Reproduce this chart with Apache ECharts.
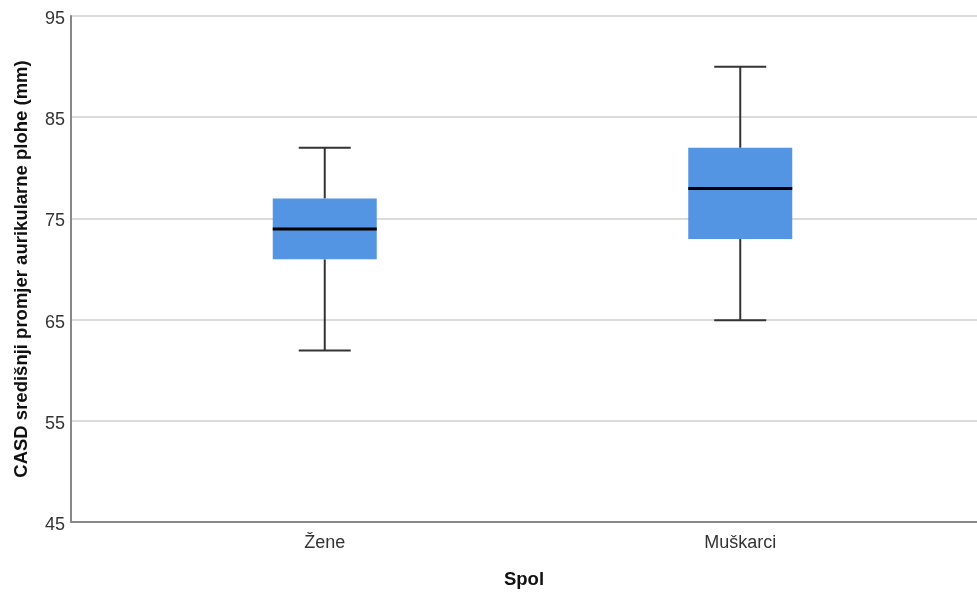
<!DOCTYPE html>
<html>
<head>
<meta charset="utf-8">
<style>
  html, body { margin: 0; padding: 0; background: #fff; }
  #main { width: 977px; height: 594px; }
</style>
<script src="https://cdn.jsdelivr.net/npm/echarts@6/dist/echarts.min.js"></script>
</head>
<body>
<div id="main"></div>
<script>
// kategorije i vrijednosti box plota (min, Q1, medijan, Q3, max)
const categories = ['Žene', 'Muškarci'];
const whiskerLow = [62, 65];
const q1 = [71, 73];
const median = [74, 78];
const q3 = [77, 82];
const whiskerHigh = [82, 90];
const yTicks = [45, 55, 65, 75, 85, 95];

const boxData = categories.map((c, i) => [i, whiskerLow[i], q1[i], median[i], q3[i], whiskerHigh[i]]);

let chart = echarts.init(document.getElementById('main'), null, { renderer: 'canvas' });

function renderBox(params, api) {
  const x = api.value(0);
  const pMin = api.coord([x, api.value(1)]);
  const pQ1 = api.coord([x, api.value(2)]);
  const pMed = api.coord([x, api.value(3)]);
  const pQ3 = api.coord([x, api.value(4)]);
  const pMax = api.coord([x, api.value(5)]);
  const half = 52;   // pola sirine kutije
  const cap = 26;    // pola sirine brkova
  const cx = pMed[0];
  const whisker = { stroke: '#333', lineWidth: 2 };
  return {
    type: 'group',
    children: [
      { type: 'line', shape: { x1: cx, y1: pQ3[1], x2: cx, y2: pMax[1] }, style: whisker },
      { type: 'line', shape: { x1: cx, y1: pQ1[1], x2: cx, y2: pMin[1] }, style: whisker },
      { type: 'line', shape: { x1: cx - cap, y1: pMax[1], x2: cx + cap, y2: pMax[1] }, style: whisker },
      { type: 'line', shape: { x1: cx - cap, y1: pMin[1], x2: cx + cap, y2: pMin[1] }, style: whisker },
      { type: 'rect', shape: { x: cx - half, y: pQ3[1], width: half * 2, height: pQ1[1] - pQ3[1] },
        style: { fill: '#5394e3' } },
      { type: 'line', shape: { x1: cx - half, y1: pMed[1], x2: cx + half, y2: pMed[1] },
        style: { stroke: '#000', lineWidth: 3 } }
    ]
  };
}

let option = {
  animation: false,
  backgroundColor: '#fff',
  textStyle: { fontFamily: 'Liberation Sans, Arial, sans-serif' },
  grid: [
    { left: 71, right: 0, top: 16, bottom: 71 },
    { left: 117, right: 29, top: 16, bottom: 71 }
  ],
  xAxis: [
    {
      gridIndex: 0,
      type: 'category',
      data: [''],
      axisLine: { lineStyle: { color: '#888', width: 2 } },
      axisTick: { show: false },
      axisLabel: { show: false },
      name: 'Spol',
      nameLocation: 'middle',
      nameGap: 48,
      nameTextStyle: { fontSize: 18.5, fontWeight: 'bold', color: '#111' }
    },
    {
      gridIndex: 1,
      type: 'category',
      data: categories,
      axisLine: { show: false },
      axisTick: { show: false },
      axisLabel: { fontSize: 18, color: '#333', margin: 11 }
    }
  ],
  yAxis: [
    {
      gridIndex: 0,
      type: 'value',
      min: 45,
      max: 95,
      interval: 10,
      axisLine: { show: true, lineStyle: { color: '#888', width: 2 } },
      axisTick: { show: false },
      axisLabel: { fontSize: 18, color: '#333', margin: 6,
        verticalAlign: 'top', lineHeight: 6, customValues: yTicks },
      splitLine: { lineStyle: { color: '#cfcfcf', width: 1.5 } },
      name: 'CASD središnji promjer aurikularne plohe (mm)',
      nameLocation: 'middle',
      nameGap: 40,
      nameTextStyle: { fontSize: 18.5, fontWeight: 'bold', color: '#111' }
    },
    {
      gridIndex: 1,
      type: 'value',
      min: 45,
      max: 95,
      interval: 10,
      show: false
    }
  ],
  series: [
    {
      type: 'custom',
      xAxisIndex: 1,
      yAxisIndex: 1,
      renderItem: renderBox,
      encode: { x: 0, y: [1, 2, 3, 4, 5] },
      data: boxData
    }
  ]
};
chart.setOption(option);
</script>
</body>
</html>
